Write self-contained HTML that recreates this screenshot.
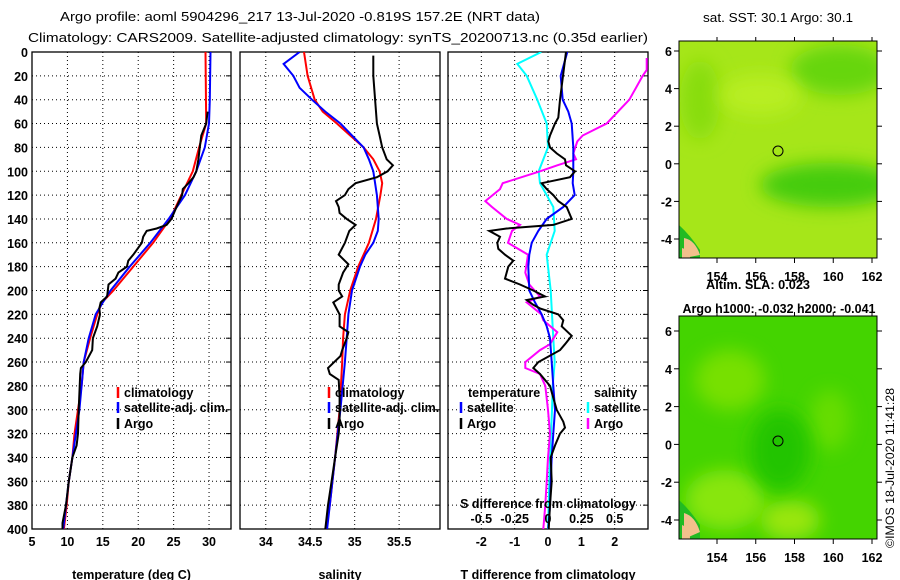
<!DOCTYPE html>
<html><head><meta charset="utf-8"><style>
html,body{margin:0;padding:0;background:#fff;}
svg{display:block;font-family:"Liberation Sans",sans-serif;}
text{font-size:13px;fill:#000;}
.b{font-weight:bold;font-size:12.5px;}
</style></head><body>
<svg id="c" width="900" height="580" viewBox="0 0 900 580">
<defs>
<filter id="bl" x="-50%" y="-50%" width="200%" height="200%"><feGaussianBlur stdDeviation="9"/></filter>
<clipPath id="cm1"><rect x="679" y="41" width="198" height="217"/></clipPath>
<clipPath id="cm2"><rect x="679" y="316" width="198" height="223"/></clipPath>
<clipPath id="cp1"><rect x="32" y="52" width="199" height="477"/></clipPath>
<clipPath id="cp2"><rect x="240" y="52" width="200" height="477"/></clipPath>
<clipPath id="cp3"><rect x="448" y="52" width="200" height="477"/></clipPath>
</defs>
<text x="300" y="21" text-anchor="middle" textLength="480" lengthAdjust="spacingAndGlyphs">Argo profile: aoml 5904296_217 13-Jul-2020 -0.819S 157.2E (NRT data)</text>
<text x="338" y="42" text-anchor="middle" textLength="620" lengthAdjust="spacingAndGlyphs">Climatology: CARS2009. Satellite-adjusted climatology: synTS_20200713.nc (0.35d earlier)</text>
<text x="778" y="22" text-anchor="middle" textLength="150" lengthAdjust="spacingAndGlyphs">sat. SST: 30.1 Argo: 30.1</text>
<text x="758" y="289" text-anchor="middle" class="b" textLength="104" lengthAdjust="spacingAndGlyphs">Altim. SLA: 0.023</text>
<text x="779" y="313" text-anchor="middle" class="b" textLength="193" lengthAdjust="spacingAndGlyphs">Argo h1000: -0.032 h2000: -0.041</text>
<text transform="translate(894,548) rotate(-90)" class="b" style="font-weight:normal;font-size:12px" textLength="160" lengthAdjust="spacingAndGlyphs">©IMOS 18-Jul-2020 11:41:28</text>

<g clip-path="url(#cm1)">
<rect x="679" y="41" width="198" height="217" fill="#a6e619"/>
<ellipse cx="830" cy="185" rx="70" ry="22" fill="#44cc11" filter="url(#bl)"/>
<ellipse cx="840" cy="70" rx="50" ry="25" fill="#66d611" filter="url(#bl)"/>
<ellipse cx="700" cy="100" rx="20" ry="40" fill="#88dd11" filter="url(#bl)"/>
<ellipse cx="760" cy="95" rx="40" ry="20" fill="#b8ee22" filter="url(#bl)"/>
<path d="M679 225 Q690 235 700 250 L700 258 L679 258Z" fill="#22bb22"/>
<path d="M684 238 Q695 240 700 255 L684 258Z" fill="#f2c08c"/>
<path d="M682 248 Q690 250 690 258 L682 258Z" fill="#f2c08c"/>
</g>
<rect x="679" y="41" width="198" height="217" fill="none" stroke="#000"/>
<circle cx="778" cy="151" r="5" fill="none" stroke="#000"/>

<g clip-path="url(#cm2)">
<rect x="679" y="316" width="198" height="223" fill="#44d400"/>
<ellipse cx="730" cy="380" rx="35" ry="30" fill="#77e000" filter="url(#bl)"/>
<ellipse cx="725" cy="500" rx="40" ry="30" fill="#88e611" filter="url(#bl)"/>
<ellipse cx="790" cy="520" rx="30" ry="20" fill="#99e611" filter="url(#bl)"/>
<ellipse cx="830" cy="420" rx="20" ry="30" fill="#66dd00" filter="url(#bl)"/>
<ellipse cx="780" cy="450" rx="30" ry="40" fill="#22c400" filter="url(#bl)"/>
<path d="M679 500 Q690 510 700 525 L700 539 L679 539Z" fill="#22bb22"/>
<path d="M684 513 Q695 516 700 532 L684 539Z" fill="#f2c08c"/>
<path d="M682 525 Q690 528 690 539 L682 539Z" fill="#f2c08c"/>
</g>
<rect x="679" y="316" width="198" height="223" fill="none" stroke="#000"/>
<circle cx="778" cy="441" r="5" fill="none" stroke="#000"/>
<g id="root"></g>
</svg>
<script>
// ---- data ----
const depthTicks=[0,20,40,60,80,100,120,140,160,180,200,220,240,260,280,300,320,340,360,380,400];
const tempTicks=[5,10,15,20,25,30];
const salTicks=[34,34.5,35,35.5];
const salTickLabels=['34','34.5','35','35.5'];
const tdiffTicks=[-2,-1,0,1,2];
const sdiffTicks=[-0.5,-0.25,0,0.25,0.5];
const sdiffTickLabels=['-0.5','-0.25','0','0.25','0.5'];
const latTicks=[-4,-2,0,2,4,6];
const lonTicks=[154,156,158,160,162];

const tClimD=[0,60,80,100,120,140,160,180,200,210,220,240,260,280,300,320,340,360,380,400];
const tClimV=[29.5,29.6,28.6,27.7,26.1,24.5,22.1,19.3,16.5,14.9,14.2,13.2,12.3,12,11.5,11,10.7,10.2,9.9,9.5];
const tSatD=[0,40,60,80,100,120,140,160,180,200,210,220,240,260,280,300,320,340,360,380,400];
const tSatV=[30.2,30.1,30,29.4,28.2,26.6,24.3,21.7,18.8,16.1,15,14,13,12.3,12,11.7,11.2,10.7,10.2,9.8,9.4];
const tArgoD=[50,60,70,80,90,100,105,110,115,120,130,140,145,148,150,155,160,170,175,180,185,190,195,200,205,210,215,220,230,240,250,260,265,270,300,320,330,340,360,380,395,400];
const tArgoV=[29.8,29.6,28.9,28.7,28.5,28.2,27.8,27.1,26.3,26.2,25.4,24.7,24,22.6,21.2,20.7,20.5,19.3,18.6,18.4,17.2,16.8,15.8,15.7,15.6,14.7,14.5,14.6,14.2,13.6,13.5,12.6,11.9,11.8,11.6,11.5,11.3,10.7,10.2,9.8,9.3,9.3];

const sClimD=[0,10,20,40,50,60,70,80,90,100,110,120,140,160,170,180,200,220,240,260,300,340,380,400];
const sClimV=[34.43,34.45,34.47,34.55,34.64,34.8,34.95,35.1,35.21,35.28,35.31,35.29,35.24,35.16,35.1,35.04,34.95,34.89,34.87,34.86,34.83,34.78,34.72,34.68];
const sSatD=[0,10,20,30,40,50,60,70,80,90,100,120,140,150,160,170,180,200,220,240,260,300,340,380,400];
const sSatV=[34.38,34.2,34.31,34.38,34.52,34.67,34.84,34.97,35.1,35.16,35.21,35.25,35.27,35.26,35.21,35.12,35.06,34.97,34.93,34.91,34.89,34.84,34.78,34.72,34.69];
const sArgoD=[3,20,40,60,70,80,90,95,100,105,110,115,120,125,130,135,140,145,150,160,170,178,185,195,200,205,210,220,230,235,240,250,255,265,270,275,290,310,320,340,360,380,400];
const sArgoV=[35.21,35.21,35.23,35.25,35.28,35.31,35.36,35.43,35.37,35.25,35.01,34.93,34.89,34.79,34.82,34.83,34.91,35.01,34.94,34.89,34.82,34.93,34.87,34.82,34.82,34.86,34.76,34.83,34.83,34.93,34.91,34.86,34.84,34.7,34.72,34.82,34.83,34.83,34.82,34.78,34.74,34.7,34.67];

const dtSatD=[0,20,40,50,60,80,100,110,120,130,140,150,160,170,180,200,210,220,230,240,260,280,300,320,340,360,380,400];
const dtSatV=[0.58,0.38,0.44,0.61,0.71,0.76,0.76,0.74,0.8,0.46,-0.04,-0.29,-0.49,-0.56,-0.59,-0.56,-0.39,-0.19,-0.04,0.06,0.11,0.16,0.21,0.16,0.11,0.08,0.06,0.01];
const dtArgoD=[0,40,55,60,70,75,80,85,90,95,100,105,110,115,120,125,130,140,145,148,150,155,160,165,170,175,180,190,195,200,205,208,212,215,220,225,230,238,245,250,260,265,270,280,290,300,310,315,320,330,340,360,380,400];
const dtArgoV=[0.54,0.36,0.31,0.21,0.06,0.01,0.06,0.26,0.51,0.54,0.81,0.66,-0.19,-0.04,0.16,0.31,0.56,0.71,0.16,-1.24,-1.76,-1.44,-1.52,-1.49,-1.29,-1.04,-1.19,-1.29,-0.84,-0.44,-0.09,-0.64,-0.44,-0.24,0.31,0.46,0.41,0.71,0.51,0.36,-0.29,-0.44,-0.24,0.06,0.16,0.26,0.46,0.51,0.36,0.21,0.08,0.11,0.06,0.02];
const dsSatD=[0,10,20,40,60,80,100,110,120,130,150,170,200,240,260,280,300,340,400];
const dsSatV=[-0.05,-0.23,-0.16,-0.08,-0.01,0,-0.07,-0.06,-0.01,0.04,0.05,-0.01,0.02,0.04,0.05,0.035,0.03,0.015,0];
const dsArgoD=[5,15,20,40,60,70,75,85,90,95,100,110,115,125,130,140,145,150,160,170,185,195,205,210,220,225,235,245,250,260,265,270,280,300,320,340,360,380,400];
const dsArgoV=[0.74,0.74,0.71,0.61,0.44,0.26,0.22,0.19,0.21,0.07,-0.06,-0.34,-0.36,-0.47,-0.42,-0.31,-0.21,-0.27,-0.3,-0.15,-0.17,-0.14,-0.06,-0.16,-0.05,-0.035,0.07,0.015,-0.06,-0.17,-0.17,-0.06,-0.02,0,0.015,0,-0.01,-0.02,-0.035];

// ---- helpers ----
const NS='http://www.w3.org/2000/svg';
const root=document.getElementById('root');
function mk(tag,attrs,parent){const e=document.createElementNS(NS,tag);for(const k in attrs)e.setAttribute(k,attrs[k]);(parent||root).appendChild(e);return e;}
const Y0=52,Y1=529;
const yD=d=>Y0+d/400*(Y1-Y0);
const P1={x0:32,x1:231,lo:5,hi:33.1};
const P2={x0:240,x1:440,lo:33.71,hi:35.96};
const P3={x0:448,x1:648,lo:-3,hi:3};
const sx=(p,v)=>p.x0+(v-p.lo)/(p.hi-p.lo)*(p.x1-p.x0);
const sxS=v=>sx(P3,v*4);

function panel(p,ticks,labels,name,title,clip){
  const g=mk('g',{});
  
  
  depthTicks.forEach(d=>{
    if(d>0&&d<400){const l=mk('line',{x1:p.x0,x2:p.x1,y1:yD(d),y2:yD(d),stroke:'#000','stroke-dasharray':'1,3'},g);
    }
    const t=mk('line',{x1:p.x1-5,x2:p.x1,y1:yD(d),y2:yD(d),stroke:'#000'},g);
    
  });
  ticks.forEach((v,i)=>{
    const x=sx(p,v);
    if(x>p.x0+1&&x<p.x1-1){const l=mk('line',{x1:x,x2:x,y1:Y0,y2:Y1,stroke:'#000','stroke-dasharray':'1,3'},g);
    }
    const tt=mk('text',{x:x,y:546,'text-anchor':'middle',class:'b'},g);tt.textContent=labels[i];
    
  });
  const r=mk('rect',{x:p.x0,y:Y0,width:p.x1-p.x0,height:Y1-Y0,fill:'none',stroke:'#000','stroke-width':1.3},g);
  
  const at=mk('text',{x:(p.x0+p.x1)/2,y:579,'text-anchor':'middle',class:'b'},g);at.textContent=title;
  
  return g;
}
function line(D,V,fx,color,name,clip){
  const pts=D.map((d,i)=>fx(V[i]).toFixed(1)+','+yD(d).toFixed(1)).join(' ');
  const pl=mk('polyline',{points:pts,fill:'none',stroke:color,'stroke-width':2,'clip-path':'url(#'+clip+')'});
  
  
}
function legend(x,y,color,label,name){
  const m=mk('line',{x1:x,x2:x,y1:y-10,y2:y+1,stroke:color,'stroke-width':2.5});
  
  const t=mk('text',{x:x+6,y:y,class:'b'});t.textContent=label;
  
}

// depth labels
depthTicks.forEach(d=>{const t=mk('text',{x:28,y:yD(d)+5,'text-anchor':'end',class:'b'});t.textContent=d;
  });

panel(P1,tempTicks,tempTicks.map(String),'temperature','temperature (deg C)');
panel(P2,salTicks,salTickLabels,'salinity','salinity');
panel(P3,tdiffTicks,tdiffTicks.map(String),'difference','T difference from climatology');

line(tClimD,tClimV,v=>sx(P1,v),'#ff0000','temp-climatology-line','cp1');
line(tSatD,tSatV,v=>sx(P1,v),'#0000ff','temp-satellite-line','cp1');
line(tArgoD,tArgoV,v=>sx(P1,v),'#000000','temp-argo-line','cp1');
line(sClimD,sClimV,v=>sx(P2,v),'#ff0000','sal-climatology-line','cp2');
line(sSatD,sSatV,v=>sx(P2,v),'#0000ff','sal-satellite-line','cp2');
line(sArgoD,sArgoV,v=>sx(P2,v),'#000000','sal-argo-line','cp2');
line(dsSatD,dsSatV,sxS,'#00ffff','sdiff-satellite-line','cp3');
line(dsArgoD,dsArgoV,sxS,'#ff00ff','sdiff-argo-line','cp3');
line(dtSatD,dtSatV,v=>sx(P3,v),'#0000ff','tdiff-satellite-line','cp3');
line(dtArgoD,dtArgoV,v=>sx(P3,v),'#000000','tdiff-argo-line','cp3');

legend(118,397,'#ff0000','climatology','temp-legend-climatology');
legend(118,412,'#0000ff','satellite-adj. clim.','temp-legend-satellite');
legend(118,428,'#000000','Argo','temp-legend-argo');
legend(329,397,'#ff0000','climatology','sal-legend-climatology');
legend(329,412,'#0000ff','satellite-adj. clim.','sal-legend-satellite');
legend(329,428,'#000000','Argo','sal-legend-argo');
const lt=mk('text',{x:468,y:397,class:'b'});lt.textContent='temperature';

const ls=mk('text',{x:594,y:397,class:'b'});ls.textContent='salinity';

legend(461,412,'#0000ff','satellite','tdiff-legend-satellite');
legend(461,428,'#000000','Argo','tdiff-legend-argo');
legend(588,412,'#00ffff','satellite','sdiff-legend-satellite');
legend(588,428,'#ff00ff','Argo','sdiff-legend-argo');
const st=mk('text',{x:548,y:508,'text-anchor':'middle',class:'b'});st.textContent='S difference from climatology';

sdiffTicks.forEach((v,i)=>{const t=mk('text',{x:sxS(v),y:523,'text-anchor':'middle',class:'b'});t.textContent=sdiffTickLabels[i];
  });

// map axes
function mapAxes(top,bottom,lat6y,latm4y,name){
  const yl=v=>latm4y+(v+4)/10*(lat6y-latm4y);
  const xl=v=>717+(v-154)/8*155;
  latTicks.forEach(v=>{const t=mk('text',{x:672,y:yl(v)+5,'text-anchor':'end',class:'b'});t.textContent=v;
    
    const k=mk('line',{x1:877,x2:882,y1:yl(v),y2:yl(v),stroke:'#000'});
    
    const k2=mk('line',{x1:674,x2:679,y1:yl(v),y2:yl(v),stroke:'#000'});
    });
  lonTicks.forEach(v=>{const t=mk('text',{x:xl(v),y:bottom+23,'text-anchor':'middle',class:'b'});t.textContent=v;
    
    const k=mk('line',{x1:xl(v),x2:xl(v),y1:bottom,y2:bottom+5,stroke:'#000'});
    
    const k2=mk('line',{x1:xl(v),x2:xl(v),y1:top-4,y2:top,stroke:'#000'});
    });
}
mapAxes(41,258,51,239,'sst-map');
mapAxes(316,539,331,520,'sla-map');
</script>
</body></html>
